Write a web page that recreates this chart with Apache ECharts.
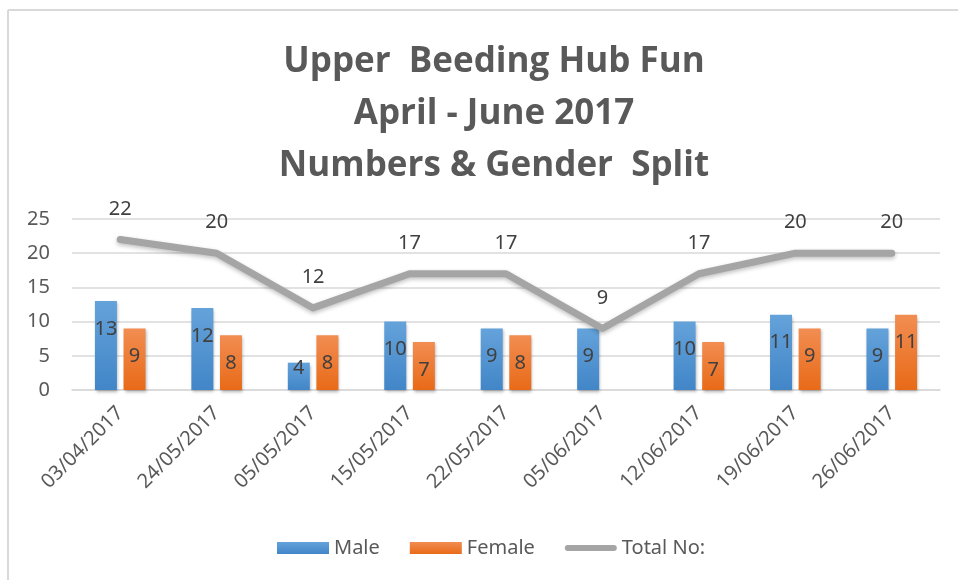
<!DOCTYPE html>
<html>
<head>
<meta charset="utf-8">
<script src="https://cdn.jsdelivr.net/npm/echarts@6/dist/echarts.min.js"></script>
<style>
  html, body { margin: 0; padding: 0; background: #fff; }
  #chart { width: 958px; height: 580px; }
</style>
</head>
<body>
<div id="chart"></div>
<script>
// sessions
var dates = ['03/04/2017', '24/05/2017', '05/05/2017', '15/05/2017', '22/05/2017',
             '05/06/2017', '12/06/2017', '19/06/2017', '26/06/2017'];
var male = [13, 12, 4, 10, 9, 9, 10, 11, 9];
var female = [9, 8, 8, 7, 8, null, 7, 9, 11];
var total = [22, 20, 12, 17, 17, 9, 17, 20, 20];
var yTicks = [0, 5, 10, 15, 20, 25];

var titleLines = ['Upper  Beeding Hub Fun', 'April - June 2017', 'Numbers & Gender  Split'];
var font = 'Noto Sans, sans-serif';

var chart = echarts.init(document.getElementById('chart'));

// bar labels sit near the top of the bar, small bars get them lower down
function barData(arr) {
  return arr.map(function (v) {
    if (v == null) return v;
    if (v < 6) {
      return { value: v, label: { position: 'insideBottom', distance: 12 } };
    }
    return v;
  });
}

function barItem(c1, c2) {
  return {
    color: new echarts.graphic.LinearGradient(0, 0, 0, 1, [
      { offset: 0, color: c1 }, { offset: 1, color: c2 }
    ]),
    shadowBlur: 3,
    shadowColor: 'rgba(0,0,0,0.3)',
    shadowOffsetX: 1,
    shadowOffsetY: 2
  };
}

var barLabel = {
  show: true,
  position: 'insideTop',
  distance: 18,
  color: '#404040',
  fontSize: 20,
  fontFamily: font
};

var option = {
  animation: false,
  title: {
    text: titleLines.join('\n'),
    left: 489,
    top: 31,
    textAlign: 'center',
    textStyle: {
      color: '#595959',
      fontSize: 35,
      fontWeight: 'bold',
      fontFamily: 'Open Sans, sans-serif',
      lineHeight: 52
    }
  },
  graphic: [
    { type: 'line', shape: { x1: 8, y1: 10, x2: 958, y2: 10 }, style: { stroke: '#d9d9d9', lineWidth: 2 } },
    { type: 'line', shape: { x1: 8, y1: 10, x2: 8, y2: 580 }, style: { stroke: '#d9d9d9', lineWidth: 2 } }
  ],
  legend: {
    bottom: 17,
    left: 272,
    itemWidth: 52,
    itemHeight: 12,
    itemGap: 30,
    textStyle: { color: '#595959', fontSize: 20, fontFamily: font },
    data: [
      { name: 'Male', icon: 'rect' },
      { name: 'Female', icon: 'rect' },
      { name: 'Total No:', icon: 'path://M0,0 L0,0 M52,12 L52,12 M3,3 L49,3 A3,3 0 0 1 49,9 L3,9 A3,3 0 0 1 3,3 Z' }
    ]
  },
  grid: {
    left: 72,
    right: 18,
    top: 219,
    bottom: 190
  },
  xAxis: {
    type: 'category',
    data: dates,
    axisLine: { lineStyle: { color: '#d9d9d9', width: 1.5 } },
    axisTick: { show: false },
    axisLabel: {
      interval: 0,
      rotate: 45,
      margin: 20,
      color: '#595959',
      fontSize: 20,
      fontFamily: font
    }
  },
  yAxis: {
    type: 'value',
    min: yTicks[0],
    max: yTicks[yTicks.length - 1],
    interval: 5,
    axisLine: { show: false },
    axisTick: { show: false },
    splitLine: { lineStyle: { color: '#d9d9d9', width: 1.5 } },
    axisLabel: {
      margin: 22,
      color: '#595959',
      fontSize: 20,
      fontFamily: font
    }
  },
  series: [
    {
      name: 'Male',
      type: 'bar',
      data: barData(male),
      barWidth: 22,
      barGap: '30%',
      itemStyle: barItem('#64a2da', '#4286c8'),
      label: barLabel
    },
    {
      name: 'Female',
      type: 'bar',
      data: barData(female),
      barWidth: 22,
      itemStyle: barItem('#f28d52', '#e86a17'),
      label: barLabel
    },
    {
      name: 'Total No:',
      type: 'line',
      data: total,
      symbol: 'circle',
      symbolSize: 1,
      itemStyle: { color: '#a5a5a5' },
      lineStyle: {
        color: '#a5a5a5',
        width: 7,
        cap: 'round',
        join: 'round',
        shadowBlur: 4,
        shadowColor: 'rgba(0,0,0,0.25)',
        shadowOffsetY: 2
      },
      label: {
        show: true,
        position: 'top',
        distance: 20,
        color: '#404040',
        fontSize: 20,
        fontFamily: font
      },
      z: 3
    }
  ]
};

chart.setOption(option);
</script>
</body>
</html>
